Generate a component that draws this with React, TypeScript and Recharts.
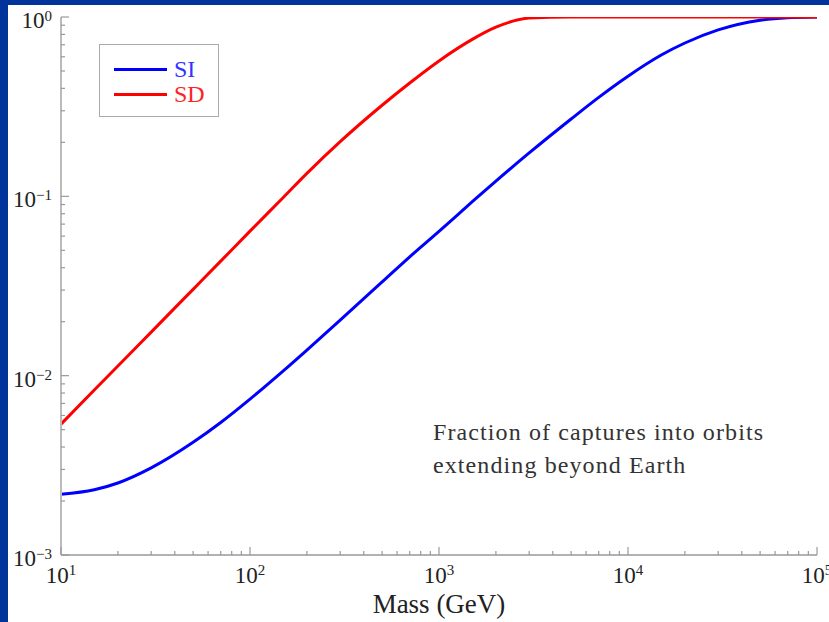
import React from 'react';
import { LineChart, Line, XAxis, YAxis, Legend } from 'recharts';

// dark-matter mass (GeV) and fraction of captures
const massGeV = [10, 15, 20, 30, 50, 70, 100, 150, 200, 300, 500, 700, 1000, 1500, 2000, 3000, 5000, 7000, 10000, 15000, 20000, 30000, 50000, 70000, 100000];
const siFraction = [0.00218, 0.00231, 0.00252, 0.00306, 0.00425, 0.00548, 0.0074, 0.01064, 0.0139, 0.0204, 0.0333, 0.046, 0.0638, 0.0933, 0.1216, 0.1746, 0.27, 0.3565, 0.4677, 0.6138, 0.7161, 0.8472, 0.9594, 0.9908, 1.0];
const sdFraction = [0.00537, 0.00832, 0.01132, 0.0175, 0.0303, 0.0435, 0.064, 0.0986, 0.1343, 0.2018, 0.3221, 0.4285, 0.5689, 0.7499, 0.877, 0.9863, 1.0, 1.0, 1.0, 1.0, 1.0, 1.0, 1.0, 1.0, 1.0];

const xMajor = [10, 100, 1000, 10000, 100000];
const xExponents = ['1', '2', '3', '4', '5'];
const yMajor = [0.001, 0.01, 0.1, 1];
const yExponents = ['\u22123', '\u22122', '\u22121', '0'];
const minorSteps = [2, 3, 4, 5, 6, 7, 8, 9];

const seriesNames = ['SI', 'SD'];
const seriesColors = ['#0000ff', '#ff0000'];

const data = massGeV.map((m, i) => ({ m, si: siFraction[i], sd: sdFraction[i] }));

const withMinors = (major: number[]) => {
  const out: number[] = [];
  major.forEach((v, i) => {
    out.push(v);
    if (i < major.length - 1) minorSteps.forEach((s) => out.push(v * s));
  });
  return out;
};
const xTicks = withMinors(xMajor);
const yTicks = withMinors(yMajor);

const FONT = '"Liberation Serif", "DejaVu Serif", serif';
const AXIS = '#999';
const TEXT = '#222';

const near = (a: number, b: number) => Math.abs(Math.log10(a) - Math.log10(b)) < 1e-6;

function BottomTick({ x, y, payload }: any) {
  const idx = xMajor.findIndex((v) => near(v, payload.value));
  const major = idx >= 0;
  return (
    <g>
      <line x1={x} x2={x} y1={y} y2={y - (major ? 8 : 4)} stroke={AXIS} strokeWidth={1.2} />
      {major && (
        <text x={x} y={y + 28} textAnchor="middle" fontFamily={FONT} fontSize={23} fill={TEXT}>
          <tspan>10</tspan>
          <tspan dy={-8} fontSize={15}>{xExponents[idx]}</tspan>
        </text>
      )}
    </g>
  );
}

function TopTick({ x, y, payload }: any) {
  const major = xMajor.some((v) => near(v, payload.value));
  return <line x1={x} x2={x} y1={y} y2={y + (major ? 8 : 4)} stroke={AXIS} strokeWidth={1.2} />;
}

function LeftTick({ x, y, payload }: any) {
  const idx = yMajor.findIndex((v) => near(v, payload.value));
  const major = idx >= 0;
  return (
    <g>
      <line x1={x} x2={x + (major ? 8 : 4)} y1={y} y2={y} stroke={AXIS} strokeWidth={1.2} />
      {major && (
        <text x={x - 9} y={y + 11} textAnchor="end" fontFamily={FONT} fontSize={23} fill={TEXT}>
          <tspan>10</tspan>
          <tspan dy={-7} fontSize={15}>{yExponents[idx]}</tspan>
        </text>
      )}
    </g>
  );
}

function RightTick({ x, y, payload }: any) {
  const major = yMajor.some((v) => near(v, payload.value));
  return <line x1={x} x2={x - (major ? 8 : 4)} y1={y} y2={y} stroke={AXIS} strokeWidth={1.2} />;
}

function LegendBox() {
  return (
    <div style={{ width: 118, height: 71, border: '1.5px solid #aaa', background: '#fff', position: 'relative' }}>
      {seriesNames.map((name, i) => (
        <div key={name} style={{ position: 'absolute', left: 14, top: 14 + i * 25, display: 'flex', alignItems: 'center' }}>
          <div style={{ width: 53, height: 3, background: seriesColors[i] }} />
          <span style={{ marginLeft: 7, fontFamily: FONT, fontSize: 24, lineHeight: '20px', color: i === 0 ? '#3333ff' : '#ff2222' }}>{name}</span>
        </div>
      ))}
    </div>
  );
}

export default function App() {
  return (
    <div style={{ position: 'absolute', left: 0, top: 0, width: 829, height: 622, background: '#00349a', overflow: 'hidden' }}>
      <div style={{ position: 'absolute', left: 8, top: 5, width: 821, height: 617, background: '#fff' }}>
        <LineChart width={821} height={617} data={data} margin={{ top: 12, right: 12, bottom: 0, left: 0 }}>
          <XAxis
            dataKey="m"
            type="number"
            scale="log"
            domain={[10, 100000]}
            ticks={xTicks}
            interval={0}
            tickSize={0}
            tickMargin={0}
            tickLine={false}
            height={67}
            axisLine={{ stroke: AXIS, strokeWidth: 1.5 }}
            tick={<BottomTick />}
            label={{ value: 'Mass (GeV)', position: 'insideBottom', offset: 9, fontSize: 27, fontFamily: FONT, fill: TEXT }}
          />
          <XAxis
            xAxisId="top"
            orientation="top"
            dataKey="m"
            type="number"
            scale="log"
            domain={[10, 100000]}
            ticks={xTicks}
            interval={0}
            tickSize={0}
            tickMargin={0}
            tickLine={false}
            height={0}
            axisLine={{ stroke: AXIS, strokeWidth: 1.5 }}
            tick={<TopTick />}
          />
          <YAxis
            type="number"
            scale="log"
            domain={[0.001, 1]}
            ticks={yTicks}
            interval={0}
            tickSize={0}
            tickMargin={0}
            tickLine={false}
            width={53}
            allowDataOverflow
            axisLine={{ stroke: '#bbb', strokeWidth: 2 }}
            tick={<LeftTick />}
          />
          <YAxis
            yAxisId="right"
            orientation="right"
            type="number"
            scale="log"
            domain={[0.001, 1]}
            ticks={yTicks}
            interval={0}
            tickSize={0}
            tickMargin={0}
            tickLine={false}
            width={0}
            allowDataOverflow
            axisLine={{ stroke: '#888', strokeWidth: 1.5 }}
            tick={<RightTick />}
          />
          <Legend
            layout="vertical"
            align="center"
            verticalAlign="middle"
            content={() => <LegendBox />}
            wrapperStyle={{ left: 91, top: 39, width: 121 }}
          />
          <Line dataKey="si" name={seriesNames[0]} stroke={seriesColors[0]} strokeWidth={3} dot={false} type="monotone" isAnimationActive={false} />
          <Line dataKey="sd" name={seriesNames[1]} stroke={seriesColors[1]} strokeWidth={3} dot={false} type="monotone" isAnimationActive={false} />
        </LineChart>
        <div style={{ position: 'absolute', left: 425, top: 411, fontFamily: FONT, fontSize: 24, letterSpacing: 1.1, lineHeight: '33px', color: '#333', whiteSpace: 'nowrap' }}>
          Fraction of captures into orbits
          <br />
          extending beyond Earth
        </div>
      </div>
    </div>
  );
}
